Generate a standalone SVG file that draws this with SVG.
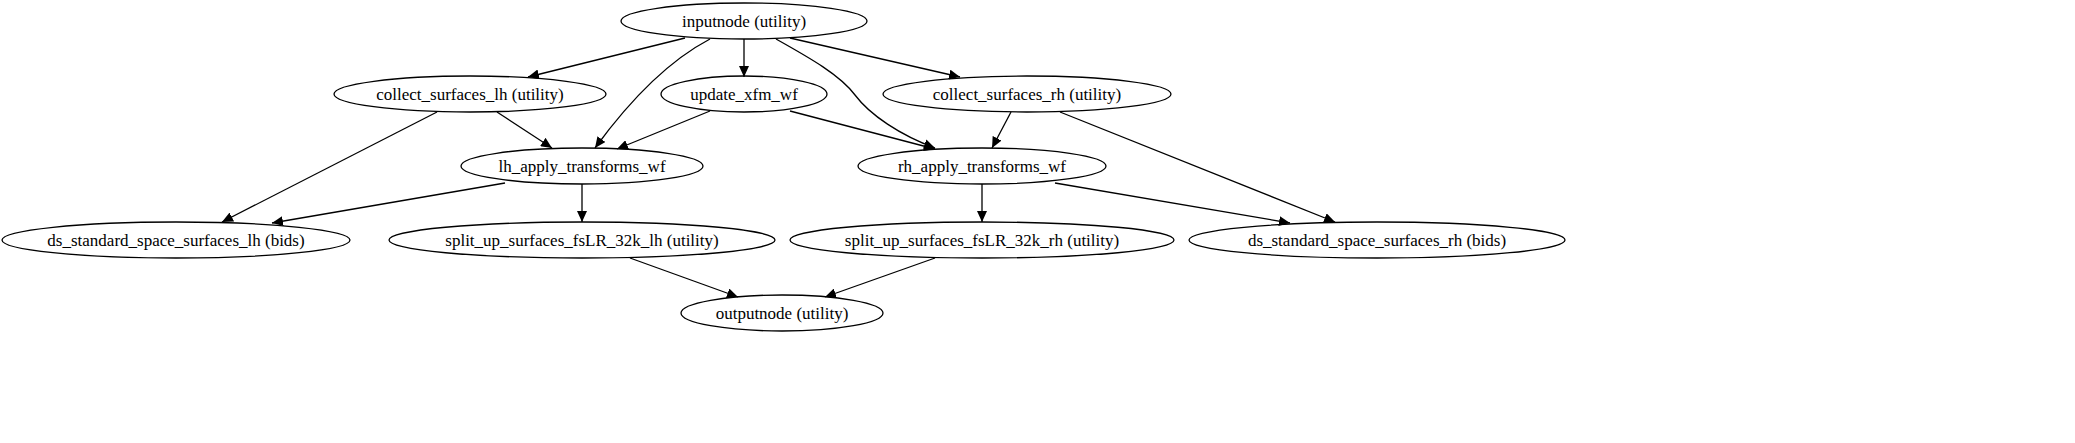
<svg xmlns="http://www.w3.org/2000/svg" width="2075" height="443" viewBox="0 0 2075 443">
<style>
.n ellipse{fill:none;stroke:#000;stroke-width:1.3}
.n text{font-family:"Liberation Serif",serif;font-size:17px;text-anchor:middle;fill:#000}
#edges path{fill:none;stroke:#000;stroke-width:1.3;marker-end:url(#a)}
</style>
<defs><marker id="a" markerUnits="userSpaceOnUse" markerWidth="12" markerHeight="10" refX="11" refY="5" orient="auto"><path d="M0,0 L11,5 L0,10 Z" fill="#000"/></marker></defs>
<rect width="2075" height="443" fill="#fff"/>
<g id="edges">
<path d="M685,38 L528,77"/>
<path d="M710,39 C670,60 630,100 595,148"/>
<path d="M744,39 L744,77"/>
<path d="M776,39 C810,58 840,75 855,95 C870,115 900,135 935,148"/>
<path d="M790,38 L960,77"/>
<path d="M497,112 L552,148"/>
<path d="M437,112 L222,222"/>
<path d="M710,111 L617,149"/>
<path d="M790,111 L935,149"/>
<path d="M1011,112 L992,148"/>
<path d="M1060,112 L1335,222"/>
<path d="M505,183 L272,223"/>
<path d="M582,184 L582,222"/>
<path d="M982,184 L982,222"/>
<path d="M1055,183 L1290,223"/>
<path d="M630,258 L738,297"/>
<path d="M935,258 L825,297"/>
</g>
<g id="inputnode" class="n"><ellipse cx="744" cy="21" rx="123" ry="18"/><text x="744" y="27">inputnode (utility)</text></g>
<g id="collect_lh" class="n"><ellipse cx="470" cy="94" rx="136" ry="18"/><text x="470" y="100">collect_surfaces_lh (utility)</text></g>
<g id="update" class="n"><ellipse cx="744" cy="94" rx="83" ry="18"/><text x="744" y="100">update_xfm_wf</text></g>
<g id="collect_rh" class="n"><ellipse cx="1027" cy="94" rx="144" ry="18"/><text x="1027" y="100">collect_surfaces_rh (utility)</text></g>
<g id="lh_apply" class="n"><ellipse cx="582" cy="166" rx="121" ry="18"/><text x="582" y="172">lh_apply_transforms_wf</text></g>
<g id="rh_apply" class="n"><ellipse cx="982" cy="166" rx="124" ry="18"/><text x="982" y="172">rh_apply_transforms_wf</text></g>
<g id="ds_lh" class="n"><ellipse cx="176" cy="240" rx="174" ry="18"/><text x="176" y="246">ds_standard_space_surfaces_lh (bids)</text></g>
<g id="split_lh" class="n"><ellipse cx="582" cy="240" rx="193" ry="18"/><text x="582" y="246">split_up_surfaces_fsLR_32k_lh (utility)</text></g>
<g id="split_rh" class="n"><ellipse cx="982" cy="240" rx="192" ry="18"/><text x="982" y="246">split_up_surfaces_fsLR_32k_rh (utility)</text></g>
<g id="ds_rh" class="n"><ellipse cx="1377" cy="240" rx="188" ry="18"/><text x="1377" y="246">ds_standard_space_surfaces_rh (bids)</text></g>
<g id="outputnode" class="n"><ellipse cx="782" cy="313" rx="101" ry="18"/><text x="782" y="319">outputnode (utility)</text></g>
</svg>
